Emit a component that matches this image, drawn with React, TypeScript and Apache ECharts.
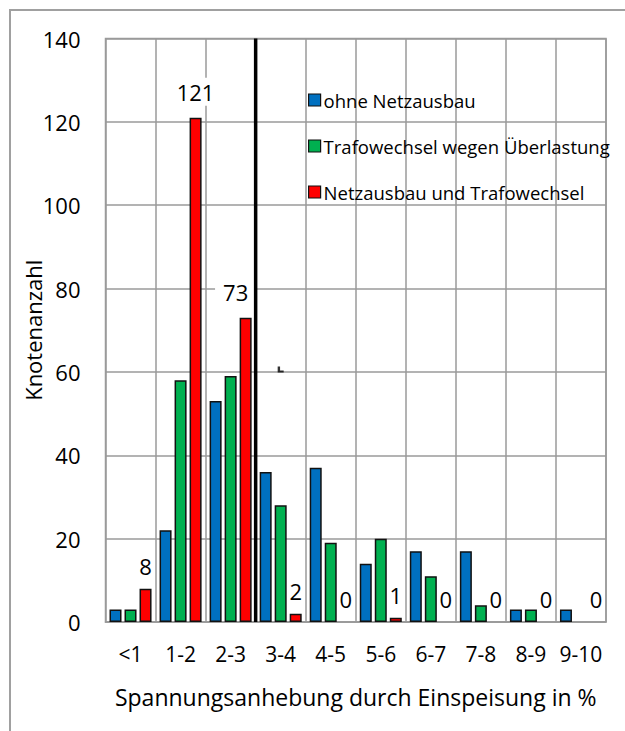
import React, { useEffect, useRef } from "react";
import * as echarts from "echarts";

// Spannungsklassen (Anhebung in %)
const categories = ["<1", "1-2", "2-3", "3-4", "4-5", "5-6", "6-7", "7-8", "8-9", "9-10"];

// Knotenanzahl je Szenario
const ohneNetzausbau = [3, 22, 53, 36, 37, 14, 17, 17, 3, 3];
const trafowechselUeberlastung = [3, 58, 59, 28, 19, 20, 11, 4, 3, 0];
const netzausbauTrafowechsel = [8, 121, 73, 2, 0, 1, 0, 0, 0, 0];

const seriesNames = [
  "ohne Netzausbau",
  "Trafowechsel wegen Überlastung",
  "Netzausbau und Trafowechsel",
];
const seriesColors = ["#0070C0", "#00B050", "#FF0000"];

// Value axis range
const yMin = 0;
const yMax = 140;
const yStep = 20;

// Divider between "2-3" and "3-4" (in category units along a 0..10 helper axis)
const dividerAt = 3;
// Small stray marker near the divider
const stubPoint = [3.5, 60.6];

const FONT = "'Open Sans', 'Noto Sans', sans-serif";
const GRID_GRAY = "#9a9a9a";

function barData(values: number[]) {
  return values.map((v) =>
    v === 0 ? { value: v, itemStyle: { borderWidth: 0 } } : { value: v }
  );
}

export default function App() {
  const ref = useRef<HTMLDivElement>(null);

  useEffect(() => {
    if (!ref.current) return;
    const chart = echarts.init(ref.current, undefined, { renderer: "svg" });

    // Labels on the tall bars sit on a white box that hides the grid behind them
    const labelled = netzausbauTrafowechsel.map((v, i) => {
      const item: any = { value: v };
      if (v === 0) item.itemStyle = { borderWidth: 0 };
      if (v > 50) {
        item.label = { backgroundColor: "#ffffff", padding: [3, 8] };
        if (i === 2) item.label.offset = [-10, 0];
      }
      return item;
    });

    const barBase = {
      type: "bar",
      xAxisIndex: 0,
      yAxisIndex: 0,
      barCategoryGap: "16%",
      barGap: "25%",
    };

    const barStyle = (color: string) => ({ color, borderColor: "#111", borderWidth: 1.5 });

    chart.setOption({
      animation: false,
      backgroundColor: "#ffffff",
      textStyle: { fontFamily: FONT, color: "#000" },
      graphic: [
        {
          type: "rect",
          silent: true,
          z: 100,
          shape: { x: 10, y: 10, width: 700, height: 800 },
          style: { fill: "none", stroke: "#a0a0a0", lineWidth: 2 },
        },
      ],
      legend: {
        orient: "vertical",
        left: 303,
        top: 84,
        itemWidth: 12,
        itemHeight: 12,
        itemGap: 24,
        icon: "rect",
        itemStyle: { borderColor: "#111", borderWidth: 1.2 },
        textStyle: { fontFamily: FONT, fontSize: 18.5, color: "#000", lineHeight: 22, padding: [0, 0, 0, -2] },
        data: seriesNames,
      },
      grid: {
        left: 105.5,
        top: 38.5,
        right: 19,
        bottom: 109,
        show: true,
        borderColor: GRID_GRAY,
        borderWidth: 1.5,
        backgroundColor: "transparent",
      },
      xAxis: [
        {
          type: "category",
          data: categories,
          axisLine: { show: true, lineStyle: { color: GRID_GRAY, width: 1.5 } },
          axisTick: { show: false },
          axisLabel: {
            fontFamily: FONT,
            fontSize: 21,
            color: "#000",
            margin: 21,
            interval: 0,
            hideOverlap: false,
          },
          splitLine: { show: true, interval: 0, lineStyle: { color: GRID_GRAY, width: 1.5 } },
          name: "Spannungsanhebung durch Einspeisung in %",
          nameLocation: "middle",
          nameGap: 63,
          nameMoveOverlap: false,
          nameTextStyle: { fontFamily: FONT, fontSize: 23, color: "#000" },
        },
        {
          type: "value",
          min: 0,
          max: categories.length,
          show: false,
        },
      ],
      yAxis: {
        type: "value",
        min: yMin,
        max: yMax,
        interval: yStep,
        axisLine: { show: false },
        axisTick: { show: false },
        axisLabel: { fontFamily: FONT, fontSize: 22, color: "#000", margin: 25 },
        splitLine: { show: true, lineStyle: { color: GRID_GRAY, width: 1.5 } },
        name: "Knotenanzahl",
        nameLocation: "middle",
        nameRotate: 90,
        nameGap: 62,
        nameMoveOverlap: false,
        nameTextStyle: { fontFamily: FONT, fontSize: 22, color: "#000" },
      },
      series: [
        {
          ...barBase,
          name: seriesNames[0],
          data: barData(ohneNetzausbau),
          itemStyle: barStyle(seriesColors[0]),
        },
        {
          ...barBase,
          name: seriesNames[1],
          data: barData(trafowechselUeberlastung),
          itemStyle: barStyle(seriesColors[1]),
        },
        {
          ...barBase,
          name: seriesNames[2],
          data: labelled,
          itemStyle: barStyle(seriesColors[2]),
          label: {
            show: true,
            position: "top",
            distance: 12,
            fontFamily: FONT,
            fontSize: 22,
            color: "#000",
          },
        },
        {
          type: "line",
          name: "divider",
          xAxisIndex: 1,
          yAxisIndex: 0,
          data: [
            [dividerAt, yMin],
            [dividerAt, yMax],
          ],
          symbol: "none",
          lineStyle: { color: "#000", width: 3.5 },
          z: 5,
          silent: true,
        },
        {
          type: "scatter",
          name: "stub",
          xAxisIndex: 1,
          yAxisIndex: 0,
          data: [stubPoint],
          symbol: "path://M0,0 L2,0 L2,4 L5,4 L5,6 L0,6 Z",
          symbolSize: [6, 6],
          itemStyle: { color: "#000" },
          silent: true,
        },
      ],
    });

    return () => chart.dispose();
  }, []);

  return (
    <div style={{ position: "fixed", left: 0, top: 0, width: 625, height: 731, overflow: "hidden", background: "#fff" }}>
      <div ref={ref} style={{ width: 625, height: 731 }} />
    </div>
  );
}
